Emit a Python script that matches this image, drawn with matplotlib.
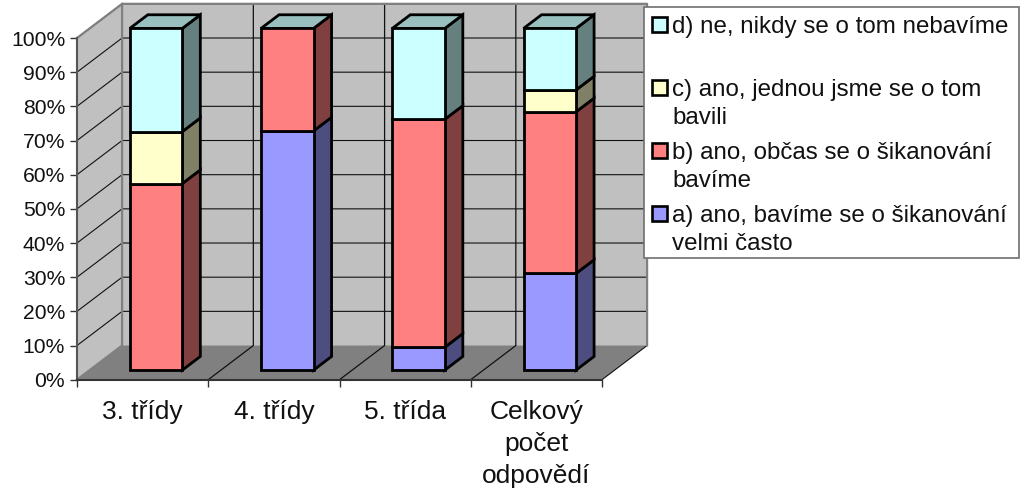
# -*- coding: utf-8 -*-
import numpy as np
import matplotlib
matplotlib.use("Agg")
import matplotlib.pyplot as plt
from matplotlib.patches import Polygon, Rectangle

plt.rcParams['font.family'] = ['Liberation Sans', 'DejaVu Sans']

# data (percent of answers in each group)
kategorie = ["3. třídy", "4. třídy", "5. třída", "Celkový\npočet\nodpovědí"]
a_casto = [0.0, 70.0, 6.7, 28.3]
b_obcas = [54.6, 30.0, 66.7, 47.3]
c_jednou = [15.2, 0.0, 0.0, 6.4]
d_nikdy = [30.2, 0.0, 26.6, 18.0]
serie = [a_casto, b_obcas, c_jednou, d_nikdy]
barvy = ["#9999FF", "#FF8080", "#FFFFCC", "#CCFFFF"]
legenda = ["d) ne, nikdy se o tom nebavíme",
           "c) ano, jednou jsme se o tom\nbavili",
           "b) ano, občas se o šikanování\nbavíme",
           "a) ano, bavíme se o šikanování\nvelmi často"]
legenda_barvy = ["#CCFFFF", "#FFFFCC", "#FF8080", "#9999FF"]

W, H = 1022, 490
fig = plt.figure(figsize=(W / 100, H / 100), dpi=100)
ax = fig.add_axes([77 / W, (H - 379.7) / H, 525 / W, 341.7 / H])
ax.set_xlim(0, 4)
ax.set_ylim(0, 100)

# sikma hloubka grafu v jednotkach os
HL_X = 45 / 131
HL_Y = 10.0


def proj(x, y, d=0.0):
    return (x + d * HL_X, y + d * HL_Y)


def stena(body, barva, z, hrana="none", lw=0):
    ax.add_patch(Polygon(body, closed=True, facecolor=barva, edgecolor=hrana,
                         linewidth=lw, zorder=z, clip_on=False, joinstyle="miter"))


def tmavsi(barva, k):
    rgb = np.array(matplotlib.colors.to_rgb(barva)) * k
    return tuple(rgb)


# steny a podlaha
stena([proj(0, 0, 1), proj(4, 0, 1), proj(4, 100, 1), proj(0, 100, 1)], "#C0C0C0", 1)
stena([proj(0, 0), proj(0, 0, 1), proj(0, 100, 1), proj(0, 100)], "#C0C0C0", 1)
stena([proj(0, 0), proj(4, 0), proj(4, 0, 1), proj(0, 0, 1)], "#808080", 1)

# mrizka
for y in range(10, 101, 10):
    ax.plot(*zip(proj(0, y), proj(0, y, 1), proj(4, y, 1)), color="#111111", lw=0.8,
            zorder=2, clip_on=False)
for x in range(1, 4):
    ax.plot(*zip(proj(x, 0), proj(x, 0, 1), proj(x, 100, 1)), color="#111111", lw=0.9,
            zorder=2, clip_on=False)
ax.plot(*zip(proj(4, 0), proj(4, 0, 1)), color="#111111", lw=0.8, zorder=2, clip_on=False)

# okraje sten
ax.plot(*zip(proj(0, 0), proj(0, 0, 1), proj(0, 100, 1), proj(4, 100, 1), proj(4, 0, 1)),
        color="#808080", lw=1.6, zorder=2.5, clip_on=False)
ax.plot(*zip(proj(0, 100), proj(0, 100, 1)), color="#808080", lw=1.6, zorder=2.5, clip_on=False)

# sloupce
D0, D1 = 0.28, 0.68
SIRKA = 0.4
LW = 2.0
for i in range(len(kategorie)):
    x0 = i + 0.506 - SIRKA / 2
    x1 = x0 + SIRKA
    spodek = 0.0
    for hodnoty, barva in zip(serie, barvy):
        v = hodnoty[i]
        if v <= 0:
            continue
        vrch = spodek + v
        stena([proj(x1, spodek, D0), proj(x1, spodek, D1), proj(x1, vrch, D1), proj(x1, vrch, D0)],
              tmavsi(barva, 0.5), 3, "black", LW)
        stena([proj(x0, spodek, D0), proj(x1, spodek, D0), proj(x1, vrch, D0), proj(x0, vrch, D0)],
              barva, 4, "black", LW)
        spodek = vrch
    # horni plocha ma vzdy barvu posledni serie
    stena([proj(x0, spodek, D0), proj(x1, spodek, D0), proj(x1, spodek, D1), proj(x0, spodek, D1)],
          tmavsi(barvy[-1], 0.75), 3, "black", LW)

# osy
for s in ["top", "right"]:
    ax.spines[s].set_visible(False)
ax.spines["left"].set_color("#555555")
ax.spines["left"].set_linewidth(1.5)
ax.spines["bottom"].set_color("#333333")
ax.spines["bottom"].set_linewidth(1.5)
ax.spines["left"].set_zorder(6)
ax.spines["bottom"].set_zorder(6)
ax.patch.set_visible(False)

ax.set_yticks(range(0, 101, 10))
ax.set_yticklabels([f"{v}%" for v in range(0, 101, 10)], fontsize=15.2, color="#111111")
ax.tick_params(axis="y", length=5, width=1, color="#333333", pad=3.5)
ax.set_xticks(range(0, 5))
ax.set_xticklabels([])
ax.tick_params(axis="x", which="major", length=5, width=1, color="#333333")
ax.set_xticks(np.arange(len(kategorie)) + 0.5, minor=True)
ax.set_xticklabels(kategorie, minor=True, fontsize=19, color="#111111", linespacing=1.42)
ax.tick_params(axis="x", which="minor", length=0, pad=14.5)


# legenda
def fx(px):
    return px / W


def fy(py):
    return (H - py) / H


fig.add_artist(Rectangle((fx(644), fy(258)), 375 / W, 251 / H, transform=fig.transFigure,
                         facecolor="white", edgecolor="#707070", linewidth=1.2, zorder=8))
for i, (txt, barva) in enumerate(zip(legenda, legenda_barvy)):
    y = 17 + i * 63
    fig.add_artist(Rectangle((fx(652), fy(y + 15)), 15 / W, 15 / H, transform=fig.transFigure,
                             facecolor=barva, edgecolor="black", linewidth=1.9, zorder=9))
    fig.text(fx(672), fy(y - 1), txt, fontsize=17.4, color="#111111", va="top", ha="left",
             zorder=9, linespacing=1.36)

fig.savefig("out.png", dpi=100)
